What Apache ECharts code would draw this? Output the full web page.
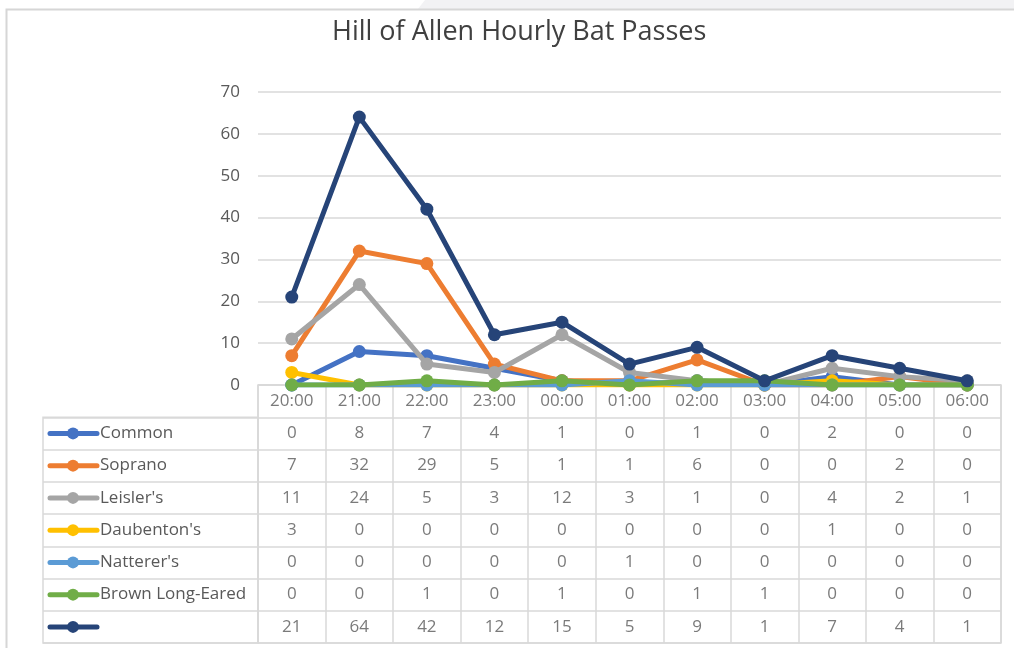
<!DOCTYPE html>
<html>
<head>
<meta charset="utf-8">
<title>Hill of Allen Hourly Bat Passes</title>
<script src="https://cdn.jsdelivr.net/npm/echarts@6/dist/echarts.min.js"></script>
<style>
  html, body { margin: 0; padding: 0; background: #fff; }
  #chart { width: 1014px; height: 648px; }
</style>
</head>
<body>
<div id="chart"></div>
<script>
// hours on the x axis / table header
const hours = ["20:00", "21:00", "22:00", "23:00", "00:00", "01:00", "02:00", "03:00", "04:00", "05:00", "06:00"];

// one array per species
const common      = [0, 8, 7, 4, 1, 0, 1, 0, 2, 0, 0];
const soprano     = [7, 32, 29, 5, 1, 1, 6, 0, 0, 2, 0];
const leislers    = [11, 24, 5, 3, 12, 3, 1, 0, 4, 2, 1];
const daubentons  = [3, 0, 0, 0, 0, 0, 0, 0, 1, 0, 0];
const natterers   = [0, 0, 0, 0, 0, 1, 0, 0, 0, 0, 0];
const brownLong   = [0, 0, 1, 0, 1, 0, 1, 1, 0, 0, 0];
const totals      = [21, 64, 42, 12, 15, 5, 9, 1, 7, 4, 1];

const seriesNames = ["Common", "Soprano", "Leisler's", "Daubenton's", "Natterer's", "Brown Long-Eared", ""];
const seriesData = [common, soprano, leislers, daubentons, natterers, brownLong, totals];
const seriesColors = ["#4472c4", "#ed7d31", "#a5a5a5", "#ffc000", "#5b9bd5", "#70ad47", "#264478"];

// y axis ticks
const yMin = 0, yMax = 70, yStep = 10;

const textColor = "#595959";
const lineGrey = "#d9d9d9";
const font = "'Open Sans', 'Noto Sans', sans-serif";

const chart = echarts.init(document.getElementById("chart"));

// rows of the table grid: header row + one per series
const rowKeys = ["hdr"].concat(seriesNames.map((n, i) => "r" + i));
const legendKeys = seriesNames.map((n, i) => "r" + i);

// table cells (header + values)
const cellData = [];
hours.forEach((h, c) => cellData.push([c, 0, h]));
seriesData.forEach((arr, r) => {
  arr.forEach((v, c) => cellData.push([c, r + 1, String(v)]));
});

const lineSeries = seriesData.map((arr, i) => ({
  name: seriesNames[i],
  type: "line",
  xAxisIndex: 0,
  yAxisIndex: 0,
  data: arr,
  symbol: "circle",
  symbolSize: 13,
  lineStyle: { width: 5, color: seriesColors[i] },
  itemStyle: { color: seriesColors[i] },
  emphasis: { disabled: true },
  z: 3 + i
}));

chart.setOption({
  backgroundColor: "#fff",
  animation: false,
  textStyle: { fontFamily: font },
  title: {
    text: "Hill of Allen Hourly Bat Passes",
    left: 327,
    top: 14,
    textStyle: { fontSize: 27, fontWeight: "normal", color: "#404040", fontFamily: font }
  },
  graphic: [
    {
      type: "polygon",
      shape: { points: [[425, 0], [1014, 0], [1014, 9], [418, 9]] },
      style: { fill: "#f2f2f4" },
      silent: true,
      z: -2
    },
    {
      type: "rect",
      shape: { x: 6.5, y: 9.5, width: 1020, height: 650 },
      style: { fill: "none", stroke: "#d6d6d6", lineWidth: 2 },
      silent: true,
      z: -1
    }
  ],
  grid: [
    { left: 258, right: 13, top: 92, height: 293 },
    { left: 258, right: 13, top: 385, height: 258, show: true, borderColor: lineGrey, borderWidth: 1.5 },
    { left: 43, width: 215, top: 417.25, height: 225.75, show: true, borderColor: lineGrey, borderWidth: 1.5 }
  ],
  xAxis: [
    {
      gridIndex: 0, type: "category", data: hours, boundaryGap: true,
      axisLine: { show: false }, axisTick: { show: false }, axisLabel: { show: false }
    },
    {
      gridIndex: 1, type: "category", data: hours, boundaryGap: true,
      axisLine: { show: false }, axisTick: { show: false }, axisLabel: { show: false },
      splitLine: { show: true, lineStyle: { color: lineGrey, width: 1.5 } }
    },
    {
      gridIndex: 2, type: "category", data: ["legend"],
      axisLine: { show: false }, axisTick: { show: false }, axisLabel: { show: false }
    }
  ],
  yAxis: [
    {
      gridIndex: 0, type: "value", min: yMin, max: yMax, interval: yStep,
      axisLine: { show: false }, axisTick: { show: false },
      axisLabel: { color: textColor, fontSize: 17, margin: 18, fontFamily: font },
      splitLine: { lineStyle: { color: lineGrey, width: 1.5 } }
    },
    {
      gridIndex: 1, type: "category", data: rowKeys, inverse: true,
      axisLine: { show: false }, axisTick: { show: false }, axisLabel: { show: false },
      splitLine: { show: true, lineStyle: { color: lineGrey, width: 1.5 } }
    },
    {
      gridIndex: 2, type: "category", data: legendKeys, inverse: true,
      axisLine: { show: false }, axisTick: { show: false }, axisLabel: { show: false },
      splitLine: { show: true, lineStyle: { color: lineGrey, width: 1.5 } }
    }
  ],
  series: lineSeries.concat([
    {
      // table cells
      type: "scatter",
      xAxisIndex: 1,
      yAxisIndex: 1,
      data: cellData,
      symbolSize: 1,
      itemStyle: { color: "rgba(0,0,0,0)" },
      label: {
        show: true,
        position: "inside",
        formatter: p => p.value[2],
        color: textColor,
        fontSize: 17,
        fontFamily: font
      },
      silent: true
    },
    {
      // legend keys in the first table column
      type: "custom",
      xAxisIndex: 2,
      yAxisIndex: 2,
      data: seriesNames.map((n, i) => [0, i]),
      silent: true,
      renderItem: (params, api) => {
        const i = params.dataIndex;
        const y = api.coord([0, i])[1];
        const x0 = params.coordSys.x;
        const color = seriesColors[i];
        return {
          type: "group",
          children: [
            { type: "line", shape: { x1: x0 + 7, y1: y, x2: x0 + 54, y2: y },
              style: { stroke: color, lineWidth: 5, lineCap: "round" } },
            { type: "circle", shape: { cx: x0 + 30, cy: y, r: 6 }, style: { fill: color } },
            { type: "text", x: x0 + 57, y: y,
              style: { text: seriesNames[i], fill: textColor, fontSize: 17, fontFamily: font,
                       verticalAlign: "middle", align: "left" } }
          ]
        };
      }
    }
  ])
});
</script>
</body>
</html>
